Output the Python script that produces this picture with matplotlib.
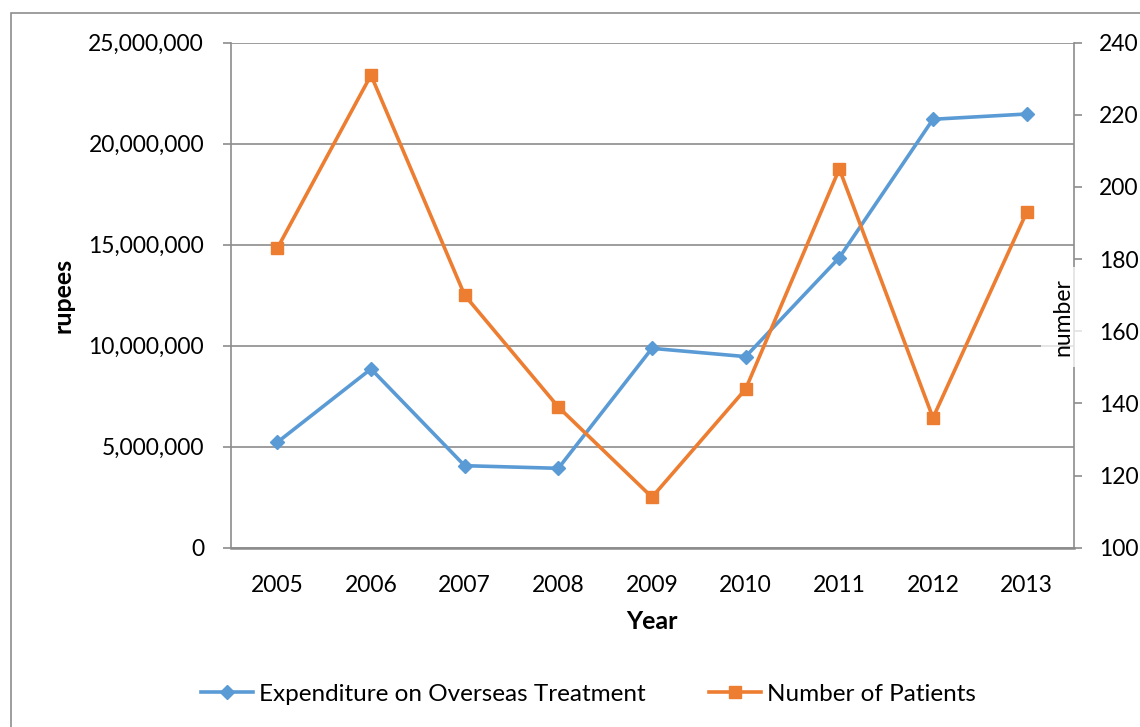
import matplotlib
matplotlib.use("Agg")
import matplotlib.pyplot as plt
from matplotlib.ticker import FuncFormatter, MultipleLocator
from matplotlib.patches import Rectangle

years = ["2005", "2006", "2007", "2008", "2009", "2010", "2011", "2012", "2013"]
expenditure = [5220000, 8850000, 4060000, 3930000, 9870000, 9460000, 14360000, 21210000, 21470000]
patients = [183, 231, 170, 139, 114, 144, 205, 136, 193]

expenditure_label = "Expenditure on Overseas Treatment"
patients_label = "Number of Patients"

BLUE = "#5B9BD5"
ORANGE = "#ED7D31"
GRID = "#8C8C8C"
FONT = "Lato"

plt.rcParams["font.family"] = [FONT, "DejaVu Sans"]

W, H = 1140, 727
fig = plt.figure(figsize=(W / 100, H / 100), dpi=100)
fig.patch.set_facecolor("white")

# outer chart frame
fig.patches.append(Rectangle((11 / W, -0.05), 1.1, 1 - 12.5 / H + 0.05,
                             transform=fig.transFigure, fill=False,
                             edgecolor="#8E8E8E", linewidth=1.2))

left, right = 230.5 / W, 1073.5 / W
top, bottom = 1 - 42.7 / H, 1 - 547.7 / H
ax = fig.add_axes([left, bottom, right - left, top - bottom])
ax2 = ax.twinx()

x = list(range(len(years)))

ax.set_xlim(-0.5, len(years) - 0.5)
ax.set_ylim(0, 25_000_000)
ax.yaxis.set_major_locator(MultipleLocator(5_000_000))
ax.yaxis.set_major_formatter(FuncFormatter(lambda v, p: f"{v:,.0f}"))
ax.set_xticks(x)
ax.set_xticklabels(years)

ax2.set_ylim(100, 240)
ax2.yaxis.set_major_locator(MultipleLocator(20))

ax.grid(axis="y", color=GRID, linewidth=1.2)
ax.grid(axis="x", visible=False)
ax.set_axisbelow(True)

for a in (ax, ax2):
    for side in ("top", "left", "right", "bottom"):
        a.spines[side].set_visible(False)

ax.spines["left"].set_visible(True)
ax.spines["left"].set_color(GRID)
ax.spines["left"].set_linewidth(1.2)
ax.spines["bottom"].set_visible(True)
ax.spines["bottom"].set_color(GRID)
ax.spines["bottom"].set_linewidth(1.8)
ax2.spines["right"].set_visible(True)
ax2.spines["right"].set_color(GRID)
ax2.spines["right"].set_linewidth(1.2)

ax.tick_params(axis="y", length=6, width=1.2, color=GRID, labelsize=16.5, pad=13, labelcolor="black")
ax.tick_params(axis="x", length=0, labelsize=16.5, pad=20, labelcolor="black")
ax2.tick_params(axis="y", length=6, width=1.2, color=GRID, labelsize=16.5, pad=12.5, labelcolor="black")

l1, = ax.plot(x, expenditure, color=BLUE, linewidth=2.6, marker="D", markersize=7,
              markerfacecolor=BLUE, markeredgecolor=BLUE, label=expenditure_label, zorder=3)
l2, = ax2.plot(x, patients, color=ORANGE, linewidth=2.6, marker="s", markersize=9,
               markerfacecolor=ORANGE, markeredgecolor=ORANGE, label=patients_label, zorder=3)

ax.set_xlabel("Year", fontsize=18, fontweight="bold", labelpad=10)
ax.set_ylabel("rupees", fontsize=18, fontweight="bold", labelpad=10)

ax2.text(1063 / W, 1 - 317 / H, "number", transform=fig.transFigure, rotation=90,
         ha="center", va="center", fontsize=16.5,
         bbox=dict(boxstyle="square,pad=0.5", facecolor="white", edgecolor="none", alpha=0.75))

fig.legend([l1, l2], [expenditure_label, patients_label], loc="center",
           bbox_to_anchor=(0.516, 1 - 694 / H), ncol=2, frameon=False,
           fontsize=17.5, handlelength=2.15, handletextpad=0.25, columnspacing=2.6)

fig.savefig("out.png", dpi=100)
